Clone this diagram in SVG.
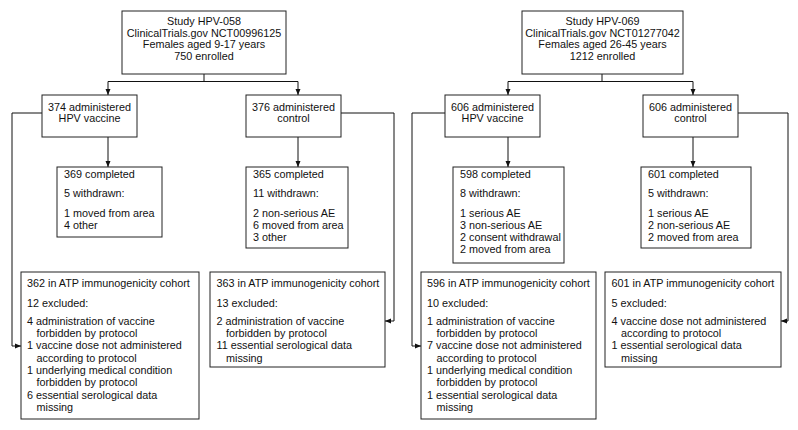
<svg xmlns="http://www.w3.org/2000/svg" width="798" height="430" viewBox="0 0 798 430">
<style>
.box{fill:#fff;stroke:#222;stroke-width:1}
text{font-family:"Liberation Sans",Arial,sans-serif;font-size:10.8px;fill:#111}
.c{text-anchor:middle}
.ln{fill:none;stroke:#111;stroke-width:1}
</style>
<defs>
<marker id="ah" markerUnits="userSpaceOnUse" markerWidth="7" markerHeight="6" refX="6" refY="3" orient="auto">
<path d="M0,0.5 L6,3 L0,5.5 z" fill="#111"/>
</marker>
</defs>
<rect width="798" height="430" fill="#fff"/>
<g id="connectors">
<path class="ln" d="M204,74 V81.5 M108,81.5 H298"/>
<path class="ln" d="M108,81.5 V95" marker-end="url(#ah)"/>
<path class="ln" d="M298,81.5 V95" marker-end="url(#ah)"/>
<path class="ln" d="M108,137 V167" marker-end="url(#ah)"/>
<path class="ln" d="M298,137 V167" marker-end="url(#ah)"/>
<path class="ln" d="M42,113 H12 V346 H21" marker-end="url(#ah)"/>
<path class="ln" d="M341,113 H394 V321 H385" marker-end="url(#ah)"/>
<path class="ln" d="M602,74 V81.5 M508,81.5 H693"/>
<path class="ln" d="M508,81.5 V95" marker-end="url(#ah)"/>
<path class="ln" d="M693,81.5 V95" marker-end="url(#ah)"/>
<path class="ln" d="M508,137 V167" marker-end="url(#ah)"/>
<path class="ln" d="M693,137 V167" marker-end="url(#ah)"/>
<path class="ln" d="M445,113 H412 V346 H421" marker-end="url(#ah)"/>
<path class="ln" d="M738,113 H788 V321 H781" marker-end="url(#ah)"/>
</g>
<g id="study058">
<rect class="box" x="122" y="11" width="164" height="63"/>
<text class="c" x="204" y="25.2">Study HPV-058</text>
<text class="c" x="204" y="36.8">ClinicalTrials.gov NCT00996125</text>
<text class="c" x="204" y="48.4">Females aged 9-17 years</text>
<text class="c" x="204" y="60">750 enrolled</text>
</g>
<g id="vac058">
<rect class="box" x="42" y="95" width="95" height="42"/>
<text class="c" x="89.5" y="110.5">374 administered</text>
<text class="c" x="89.5" y="122">HPV vaccine</text>
</g>
<g id="ctl058">
<rect class="box" x="246" y="95" width="95" height="42"/>
<text class="c" x="293.5" y="110.5">376 administered</text>
<text class="c" x="293.5" y="122">control</text>
</g>
<g id="comp369">
<rect class="box" x="57" y="167" width="105" height="70"/>
<text x="64" y="178.1">369 completed</text>
<text x="64" y="197.1">5 withdrawn:</text>
<text x="64" y="216.5">1 moved from area</text>
<text x="64" y="228.8">4 other</text>
</g>
<g id="comp365">
<rect class="box" x="246" y="167" width="102" height="81"/>
<text x="253" y="178.1">365 completed</text>
<text x="253" y="197.1">11 withdrawn:</text>
<text x="253" y="216.5">2 non-serious AE</text>
<text x="253" y="228.8">6 moved from area</text>
<text x="253" y="241.1">3 other</text>
</g>
<g id="atp362">
<rect class="box" x="21" y="272" width="178" height="147"/>
<text x="27" y="286.5">362 in ATP immunogenicity cohort</text>
<text x="27" y="306.5">12 excluded:</text>
<text x="27" y="324.8">4 administration of vaccine</text>
<text x="36.5" y="337.1">forbidden by protocol</text>
<text x="27" y="349.4">1 vaccine dose not administered</text>
<text x="36.5" y="361.7">according to protocol</text>
<text x="27" y="374">1 underlying medical condition</text>
<text x="36.5" y="386.3">forbidden by protocol</text>
<text x="27" y="398.6">6 essential serological data</text>
<text x="36.5" y="410.9">missing</text>
</g>
<g id="atp363">
<rect class="box" x="210" y="272" width="175" height="95"/>
<text x="216.5" y="286.5">363 in ATP immunogenicity cohort</text>
<text x="216.5" y="306.5">13 excluded:</text>
<text x="216.5" y="324.8">2 administration of vaccine</text>
<text x="226" y="337.1">forbidden by protocol</text>
<text x="216.5" y="349.4">11 essential serological data</text>
<text x="226" y="361.7">missing</text>
</g>
<g id="study069">
<rect class="box" x="522" y="11" width="161" height="63"/>
<text class="c" x="602.5" y="25.2">Study HPV-069</text>
<text class="c" x="602.5" y="36.8">ClinicalTrials.gov NCT01277042</text>
<text class="c" x="602.5" y="48.4">Females aged 26-45 years</text>
<text class="c" x="602.5" y="60">1212 enrolled</text>
</g>
<g id="vac069">
<rect class="box" x="445" y="95" width="95" height="42"/>
<text class="c" x="492.5" y="110.5">606 administered</text>
<text class="c" x="492.5" y="122">HPV vaccine</text>
</g>
<g id="ctl069">
<rect class="box" x="643" y="95" width="95" height="42"/>
<text class="c" x="690.5" y="110.5">606 administered</text>
<text class="c" x="690.5" y="122">control</text>
</g>
<g id="comp598">
<rect class="box" x="453" y="167" width="111" height="96"/>
<text x="460" y="178.1">598 completed</text>
<text x="460" y="197.1">8 withdrawn:</text>
<text x="460" y="216.5">1 serious AE</text>
<text x="460" y="228.8">3 non-serious AE</text>
<text x="460" y="241.1">2 consent withdrawal</text>
<text x="460" y="253.4">2 moved from area</text>
</g>
<g id="comp601">
<rect class="box" x="641" y="167" width="110" height="81"/>
<text x="648" y="178.1">601 completed</text>
<text x="648" y="197.1">5 withdrawn:</text>
<text x="648" y="216.5">1 serious AE</text>
<text x="648" y="228.8">2 non-serious AE</text>
<text x="648" y="241.1">2 moved from area</text>
</g>
<g id="atp596">
<rect class="box" x="421" y="272" width="175" height="147"/>
<text x="427" y="286.5">596 in ATP immunogenicity cohort</text>
<text x="427" y="306.5">10 excluded:</text>
<text x="427" y="324.8">1 administration of vaccine</text>
<text x="436.5" y="337.1">forbidden by protocol</text>
<text x="427" y="349.4">7 vaccine dose not administered</text>
<text x="436.5" y="361.7">according to protocol</text>
<text x="427" y="374">1 underlying medical condition</text>
<text x="436.5" y="386.3">forbidden by protocol</text>
<text x="427" y="398.6">1 essential serological data</text>
<text x="436.5" y="410.9">missing</text>
</g>
<g id="atp601">
<rect class="box" x="605" y="272" width="176" height="95"/>
<text x="611.5" y="286.5">601 in ATP immunogenicity cohort</text>
<text x="611.5" y="306.5">5 excluded:</text>
<text x="611.5" y="324.8">4 vaccine dose not administered</text>
<text x="621" y="337.1">according to protocol</text>
<text x="611.5" y="349.4">1 essential serological data</text>
<text x="621" y="361.7">missing</text>
</g>
</svg>
